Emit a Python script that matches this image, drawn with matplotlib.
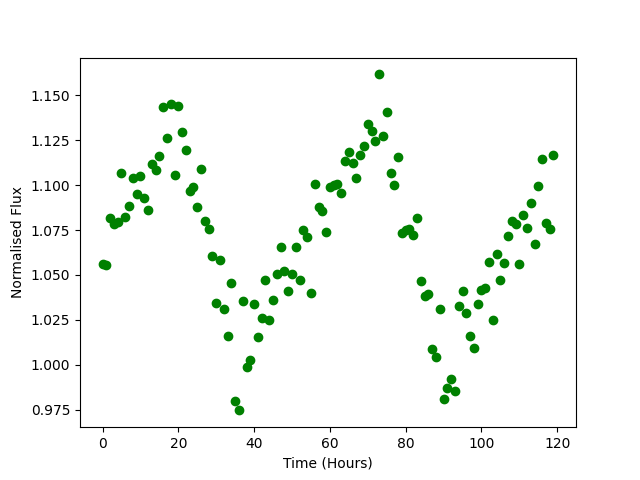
import numpy as np
import matplotlib
matplotlib.use("Agg")
import matplotlib.pyplot as plt

# hourly samples
hours = np.arange(0, 120)

flux = [
    1.0563, 1.0557, 1.0815, 1.0786, 1.0797, 1.1070, 1.0821, 1.0886, 1.1038, 1.0953,
    1.1049, 1.0927, 1.0864, 1.1116, 1.1083, 1.1164, 1.1437, 1.1264, 1.1450, 1.1058,
    1.1443, 1.1294, 1.1194, 1.0967, 1.0988, 1.0877, 1.1092, 1.0799, 1.0758, 1.0604,
    1.0346, 1.0581, 1.0312, 1.0158, 1.0457, 0.9796, 0.9746, 1.0353, 0.9986, 1.0025,
    1.0338, 1.0153, 1.0260, 1.0474, 1.0251, 1.0362, 1.0507, 1.0658, 1.0522, 1.0409,
    1.0507, 1.0658, 1.0474, 1.0748, 1.0713, 1.0398, 1.1008, 1.0877, 1.0856, 1.0741,
    1.0990, 1.0999, 1.1008, 1.0958, 1.1136, 1.1183, 1.1125, 1.1042, 1.1170, 1.1220,
    1.1342, 1.1303, 1.1248, 1.1617, 1.1276, 1.1409, 1.1070, 1.1003, 1.1159, 1.0735,
    1.0750, 1.0757, 1.0723, 1.0819, 1.0468, 1.0385, 1.0396, 1.0090, 1.0045, 1.0312,
    0.9811, 0.9872, 0.9919, 0.9856, 1.0329, 1.0412, 1.0290, 1.0162, 1.0091, 1.0340,
    1.0414, 1.0427, 1.0574, 1.0251, 1.0619, 1.0470, 1.0568, 1.0715, 1.0802, 1.0786,
    1.0559, 1.0836, 1.0760, 1.0903, 1.0674, 1.0993, 1.1148, 1.0789, 1.0754, 1.1170,
]

plt.figure(figsize=(6.4, 4.8), dpi=100)
plt.plot(hours, flux, "go")
plt.xlabel("Time (Hours)")
plt.ylabel("Normalised Flux")
plt.savefig("out.png", dpi=100)
